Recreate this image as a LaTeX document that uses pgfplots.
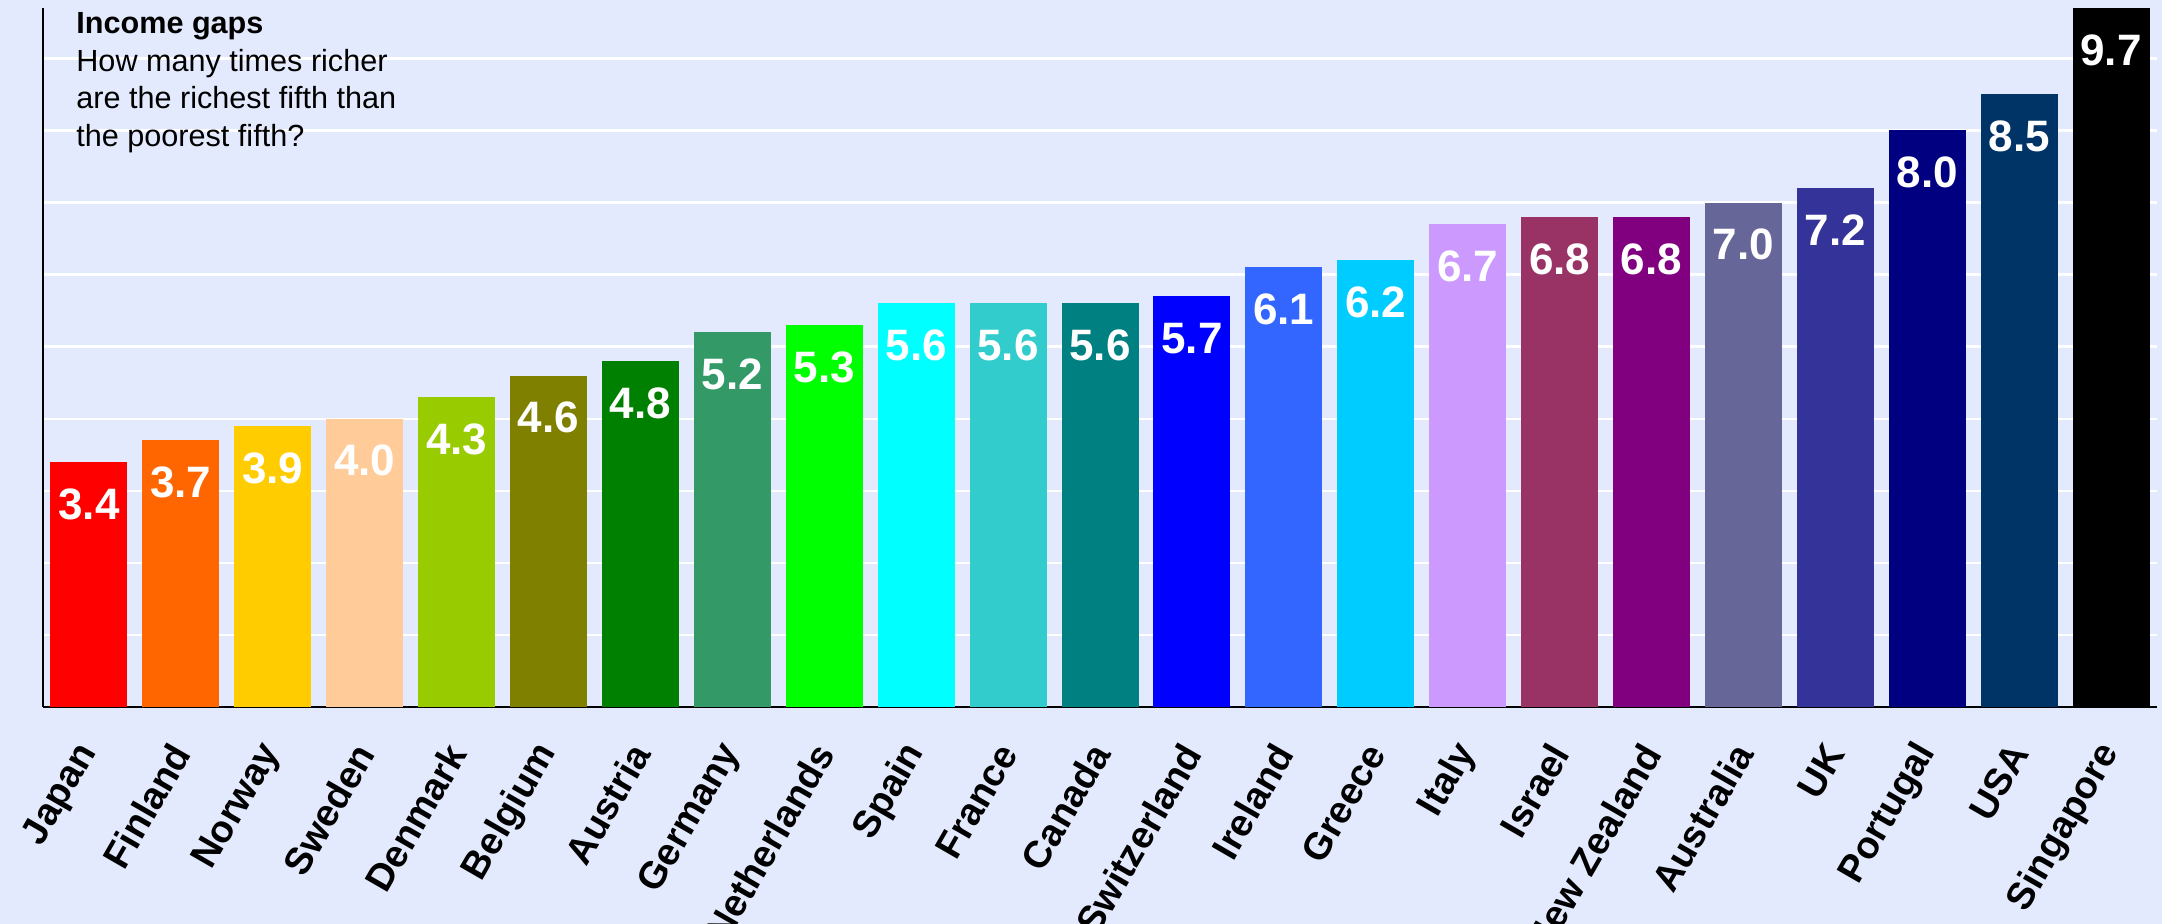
\documentclass[border=0pt]{standalone}
\usepackage{fontspec}
\setmainfont{Liberation Sans}
\usepackage{pgfplots}
\pgfplotsset{compat=1.18}
\definecolor{bg}{RGB}{228,234,254}
\definecolor{c0}{HTML}{FF0000}
\definecolor{c1}{HTML}{FF6600}
\definecolor{c2}{HTML}{FFCC00}
\definecolor{c3}{HTML}{FFCC99}
\definecolor{c4}{HTML}{99CC00}
\definecolor{c5}{HTML}{808000}
\definecolor{c6}{HTML}{008000}
\definecolor{c7}{HTML}{339966}
\definecolor{c8}{HTML}{00FF00}
\definecolor{c9}{HTML}{00FFFF}
\definecolor{c10}{HTML}{33CCCC}
\definecolor{c11}{HTML}{008080}
\definecolor{c12}{HTML}{0000FF}
\definecolor{c13}{HTML}{3366FF}
\definecolor{c14}{HTML}{00CCFF}
\definecolor{c15}{HTML}{CC99FF}
\definecolor{c16}{HTML}{993366}
\definecolor{c17}{HTML}{800080}
\definecolor{c18}{HTML}{666699}
\definecolor{c19}{HTML}{333399}
\definecolor{c20}{HTML}{000080}
\definecolor{c21}{HTML}{003366}
\definecolor{c22}{HTML}{000000}
\begin{document}
\begin{tikzpicture}
\fill[bg] (-21.5pt,-108.5pt) rectangle (1059.5pt,353.5pt);
\begin{axis}[
  at={(0pt,0pt)}, anchor=south west,
  scale only axis, width=1057pt, height=349.5pt,
  xmin=-0.5, xmax=22.5, ymin=0, ymax=9.7,
  axis x line*=bottom, axis y line*=left,
  axis line style={-, black, line width=1pt},
  ybar, bar width=38.5pt, bar shift=0pt,
  ytick={1,...,9}, yticklabels={}, ymajorgrids,
  grid style={white, line width=1.2pt},
  major tick length=0pt,
  xtick={0,...,22},
  xticklabels={Japan, Finland, Norway, Sweden, Denmark, Belgium, Austria, Germany, Netherlands, Spain, France, Canada, Switzerland, Ireland, Greece, Italy, Israel, New Zealand, Australia, UK, Portugal, USA, Singapore},
  xticklabel style={rotate=60, anchor=east, font=\bfseries\fontsize{19}{19}\selectfont, inner sep=0pt},
  xticklabel shift=20pt,
  point meta=y,
  /pgf/number format/assume math mode=true,
  nodes near coords={\pgfmathprintnumber[fixed,fixed zerofill,precision=1,assume math mode=true]{\pgfplotspointmeta}},
  every node near coord/.append style={anchor=center, yshift=-21pt, text=white, font=\bfseries\fontsize{22}{22}\selectfont},
  axis background/.style={fill=bg},
]
\addplot[fill=c0, draw=none] coordinates {(0,3.4)};
\addplot[fill=c1, draw=none] coordinates {(1,3.7)};
\addplot[fill=c2, draw=none] coordinates {(2,3.9)};
\addplot[fill=c3, draw=none] coordinates {(3,4.0)};
\addplot[fill=c4, draw=none] coordinates {(4,4.3)};
\addplot[fill=c5, draw=none] coordinates {(5,4.6)};
\addplot[fill=c6, draw=none] coordinates {(6,4.8)};
\addplot[fill=c7, draw=none] coordinates {(7,5.2)};
\addplot[fill=c8, draw=none] coordinates {(8,5.3)};
\addplot[fill=c9, draw=none] coordinates {(9,5.6)};
\addplot[fill=c10, draw=none] coordinates {(10,5.6)};
\addplot[fill=c11, draw=none] coordinates {(11,5.6)};
\addplot[fill=c12, draw=none] coordinates {(12,5.7)};
\addplot[fill=c13, draw=none] coordinates {(13,6.1)};
\addplot[fill=c14, draw=none] coordinates {(14,6.2)};
\addplot[fill=c15, draw=none] coordinates {(15,6.7)};
\addplot[fill=c16, draw=none] coordinates {(16,6.8)};
\addplot[fill=c17, draw=none] coordinates {(17,6.8)};
\addplot[fill=c18, draw=none] coordinates {(18,7.0)};
\addplot[fill=c19, draw=none] coordinates {(19,7.2)};
\addplot[fill=c20, draw=none] coordinates {(20,8.0)};
\addplot[fill=c21, draw=none] coordinates {(21,8.5)};
\addplot[fill=c22, draw=none] coordinates {(22,9.7)};
\end{axis}
\node[anchor=base west, font=\bfseries\fontsize{15.3}{18}\selectfont, inner sep=0pt] at (16.5pt,336.5pt) {Income gaps};
\node[anchor=base west, font=\fontsize{15.3}{18}\selectfont, inner sep=0pt] at (16.5pt,317.5pt) {How many times richer};
\node[anchor=base west, font=\fontsize{15.3}{18}\selectfont, inner sep=0pt] at (16.5pt,299pt) {are the richest fifth than};
\node[anchor=base west, font=\fontsize{15.3}{18}\selectfont, inner sep=0pt] at (16.5pt,280pt) {the poorest fifth?};
\pgfresetboundingbox
\path[use as bounding box] (-21.5pt,-108.5pt) rectangle (1059.5pt,353.5pt);
\end{tikzpicture}
\end{document}
